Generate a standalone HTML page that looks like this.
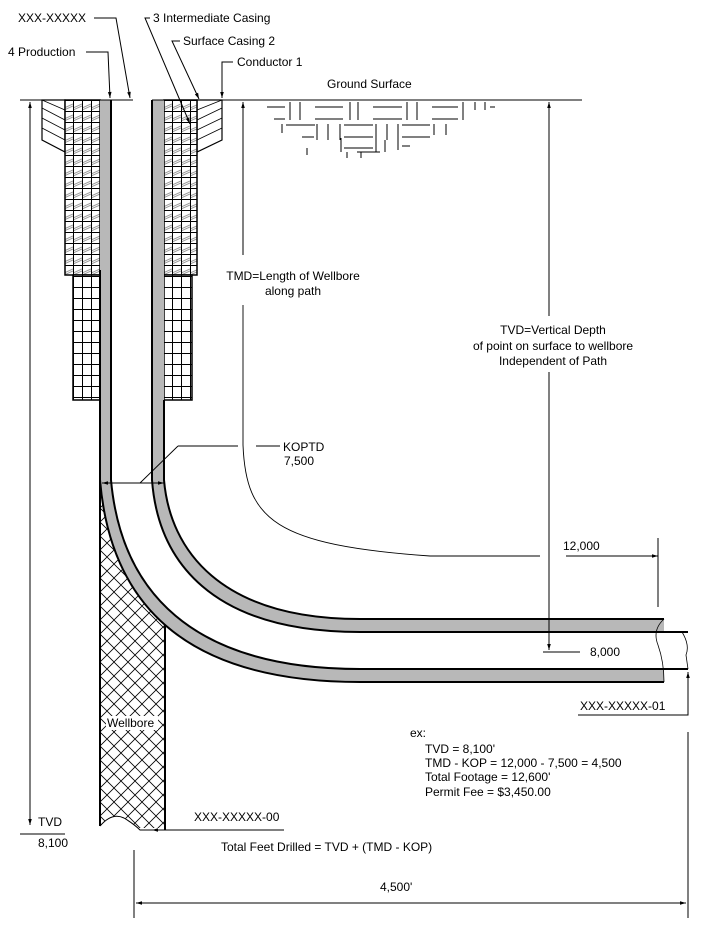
<!DOCTYPE html>
<html><head><meta charset="utf-8"><style>
html,body{margin:0;padding:0;background:#fff}
svg{display:block}
text{font-family:"Liberation Sans",sans-serif;font-size:12px;fill:#000}
</style></head><body>
<svg width="708" height="925" viewBox="0 0 708 925" xmlns="http://www.w3.org/2000/svg">
<defs>
<pattern id="grid" width="9" height="11" patternUnits="userSpaceOnUse" x="64" y="100">
<rect width="9" height="11" fill="#fff"/>
<path d="M0,0.5H9M0.5,0V11" stroke="#000" stroke-width="1"/>
</pattern>
<pattern id="sgrid" width="9" height="11" patternUnits="userSpaceOnUse" x="64" y="100">
<rect width="9" height="11" fill="#fff"/>
<path d="M0,8 L9,4 M0,10 L9,6" stroke="#999" stroke-width="1"/>
<path d="M0,0.5H9M0.5,0V11" stroke="#000" stroke-width="1"/>
</pattern>
<pattern id="xh" width="14" height="14" patternUnits="userSpaceOnUse" x="100" y="480">
<rect width="14" height="14" fill="#fff"/>
<path d="M0,0L14,14M14,0L0,14" stroke="#000" stroke-width="0.8"/>
</pattern>
<marker id="ah" viewBox="0 0 10 10" refX="10" refY="5" markerWidth="10" markerHeight="6" orient="auto-start-reverse" markerUnits="userSpaceOnUse">
<path d="M0,2 L10,5 L0,8 Z" fill="#000"/>
</marker>
</defs>

<!-- wellbore crosshatch -->
<rect x="100" y="470" width="65" height="358" fill="url(#xh)"/>
<path d="M100,826 Q112,812 124,818 Q134,824 140,830 L165,830 L165,840 L100,840 Z" fill="#fff"/>
<path d="M100,470 L100,826 M165,600 L165,830" stroke="#000" stroke-width="2"/>
<path d="M100,826 Q112,812 124,818 Q134,824 140,830 L165,830" fill="none" stroke="#000" stroke-width="1"/>
<path d="M100,470 L100,480 C110,600 180,682 360,682 L700,682 L700,470 Z" fill="#fff"/>

<!-- conductor -->
<path d="M42,100 L65,100 L65,152 L42,140 Z" fill="#fff" stroke="#000" stroke-width="1.2"/>
<path d="M42,108 L65,120 M42,118 L65,130 M42,128 L65,140 M42,100 L65,110" stroke="#000" stroke-width="0.8"/>
<path d="M222,100 L197,100 L197,152 L222,140 Z" fill="#fff" stroke="#000" stroke-width="1.2"/>
<path d="M222,108 L197,120 M222,118 L197,130 M222,128 L197,140 M222,100 L197,110" stroke="#000" stroke-width="0.8"/>

<!-- surface casing -->
<rect x="65" y="100" width="35" height="175" fill="url(#sgrid)" stroke="#000" stroke-width="1.5"/>
<rect x="164" y="100" width="33" height="175" fill="url(#sgrid)" stroke="#000" stroke-width="1.5"/>
<!-- intermediate -->
<rect x="73" y="275" width="27" height="125" fill="url(#grid)" stroke="#000" stroke-width="1.5"/>
<rect x="164" y="275" width="28" height="125" fill="url(#grid)" stroke="#000" stroke-width="1.5"/>

<!-- production tubes -->
<path d="M100,100 L100,480 C110,600 180,682 360,682 L664,682 L664,669 L360,669 C190,669 121,590 111,480 L111,100 Z" fill="#b8b8b8"/>
<path d="M152,100 L152,480 C158,560 210,632 360,632 L664,632 L664,619 L360,619 C220,619 170,550 164,480 L164,100 Z" fill="#b8b8b8"/>
<path d="M100,270 L100,480 C110,600 180,682 360,682 L664,682" fill="none" stroke="#000" stroke-width="2"/>
<path d="M111,100 L111,480 C121,590 190,669 360,669 L688,669" fill="none" stroke="#000" stroke-width="2"/>
<path d="M152,100 L152,480 C158,560 210,632 360,632 L688,632" fill="none" stroke="#000" stroke-width="2"/>
<path d="M164,400 L164,480 C170,550 220,619 360,619 L664,619" fill="none" stroke="#000" stroke-width="2"/>
<path d="M664,619 Q652,630 658,645 Q664,662 664,682" fill="none" stroke="#000" stroke-width="0.8"/>
<path d="M682,632 Q690,645 686,655 L688,669" fill="none" stroke="#000" stroke-width="0.8"/>
<rect x="106" y="716" width="52" height="14" fill="#fff"/>
<text x="107" y="727">Wellbore</text>

<!-- ground line -->
<path d="M20,100 H133 M152,100 H582" stroke="#000" stroke-width="1"/>
<text x="327" y="88">Ground Surface</text>
<g stroke="#000" stroke-width="1">
<path d="M267,107H285M290,102V120M300,102V120M315,107H343M315,119H343M350,102V120M358,102V120M373,107H402M373,119H402M407,102V120M417,102V120M432,107H458M432,119H458M463,102V120M475,102V110M485,102V110M490,107H495M274,119H285"/>
<path d="M286,125H315M282,124V133M317,124V140M328,124V140M340,124V140M344,125H373M344,137H373M376,124V140M387,124V140M398,124V140M402,125H430M402,137H430M434,124V135M446,124V135"/>
<path d="M302,137H314M344,148H373M341,138V152M376,140V152M385,140V152M398,140V150M402,146H410M357,152H380M347,152V158M361,152V158M307,148V155"/>
</g>

<!-- top labels -->
<text x="18" y="22">XXX-XXXXX</text>
<path d="M94,18 H116 L130,98" fill="none" stroke="#000" marker-end="url(#ah)"/>
<text x="153" y="22">3 Intermediate Casing</text>
<path d="M150,18 H145 L190,124" fill="none" stroke="#000" marker-end="url(#ah)"/>
<text x="8" y="56">4 Production</text>
<path d="M86,52 H108 L110,98" fill="none" stroke="#000" marker-end="url(#ah)"/>
<text x="183" y="45">Surface Casing 2</text>
<path d="M180,41 H172 L199,99" fill="none" stroke="#000" marker-end="url(#ah)"/>
<text x="237" y="66">Conductor 1</text>
<path d="M233,62 H222 V98" fill="none" stroke="#000" marker-end="url(#ah)"/>

<!-- left TVD dim -->
<path d="M30,825 V102" fill="none" stroke="#000" marker-start="url(#ah)" marker-end="url(#ah)"/>
<path d="M20,834 H65" stroke="#000"/>
<text x="38" y="826">TVD</text>
<text x="38" y="847">8,100</text>

<!-- TMD -->
<path d="M243,255 V102" fill="none" stroke="#000" marker-end="url(#ah)"/>
<text x="293" y="280" text-anchor="middle">TMD=Length of Wellbore</text>
<text x="293" y="295" text-anchor="middle">along path</text>
<path d="M243,305 V445 C246,520 275,545 430,556 L540,556" fill="none" stroke="#000" stroke-width="0.9"/>
<path d="M566,556 H658" fill="none" stroke="#000" marker-end="url(#ah)"/>
<path d="M658,538 V607" stroke="#000"/>
<text x="563" y="550">12,000</text>

<!-- KOPTD -->
<path d="M256,446 H280 M178,446 H238 M178,446 L140,483" fill="none" stroke="#000" stroke-width="0.9"/>
<text x="283" y="451">KOPTD</text>
<text x="284" y="465">7,500</text>
<path d="M102,483 H164" fill="none" stroke="#000" marker-start="url(#ah)" marker-end="url(#ah)"/>

<!-- right TVD -->
<path d="M549,316 V102" fill="none" stroke="#000" marker-end="url(#ah)"/>
<path d="M549,372 V650" fill="none" stroke="#000" marker-end="url(#ah)"/>
<text x="553" y="334" text-anchor="middle">TVD=Vertical Depth</text>
<text x="553" y="350" text-anchor="middle">of point on surface to wellbore</text>
<text x="553" y="365" text-anchor="middle">Independent of Path</text>
<path d="M543,652 H580" stroke="#000"/>
<text x="590" y="656">8,000</text>

<!-- XXX-01 -->
<path d="M578,715 H688 V672" fill="none" stroke="#000" marker-end="url(#ah)"/>
<text x="580" y="710">XXX-XXXXX-01</text>

<!-- ex block -->
<text x="410" y="737">ex:</text>
<text x="425" y="753">TVD = 8,100'</text>
<text x="425" y="767">TMD - KOP = 12,000 - 7,500 = 4,500</text>
<text x="425" y="781">Total Footage = 12,600'</text>
<text x="425" y="796">Permit Fee = $3,450.00</text>

<!-- XXX-00 -->
<text x="194" y="821">XXX-XXXXX-00</text>
<path d="M284,830 H152" fill="none" stroke="#000" marker-end="url(#ah)"/>
<text x="221" y="851">Total Feet Drilled = TVD + (TMD - KOP)</text>

<!-- bottom dim -->
<path d="M134,850 V918 M688,732 V918" stroke="#000"/>
<path d="M136,903 H686" fill="none" stroke="#000" marker-start="url(#ah)" marker-end="url(#ah)"/>
<text x="380" y="891">4,500'</text>
</svg>
</body></html>
